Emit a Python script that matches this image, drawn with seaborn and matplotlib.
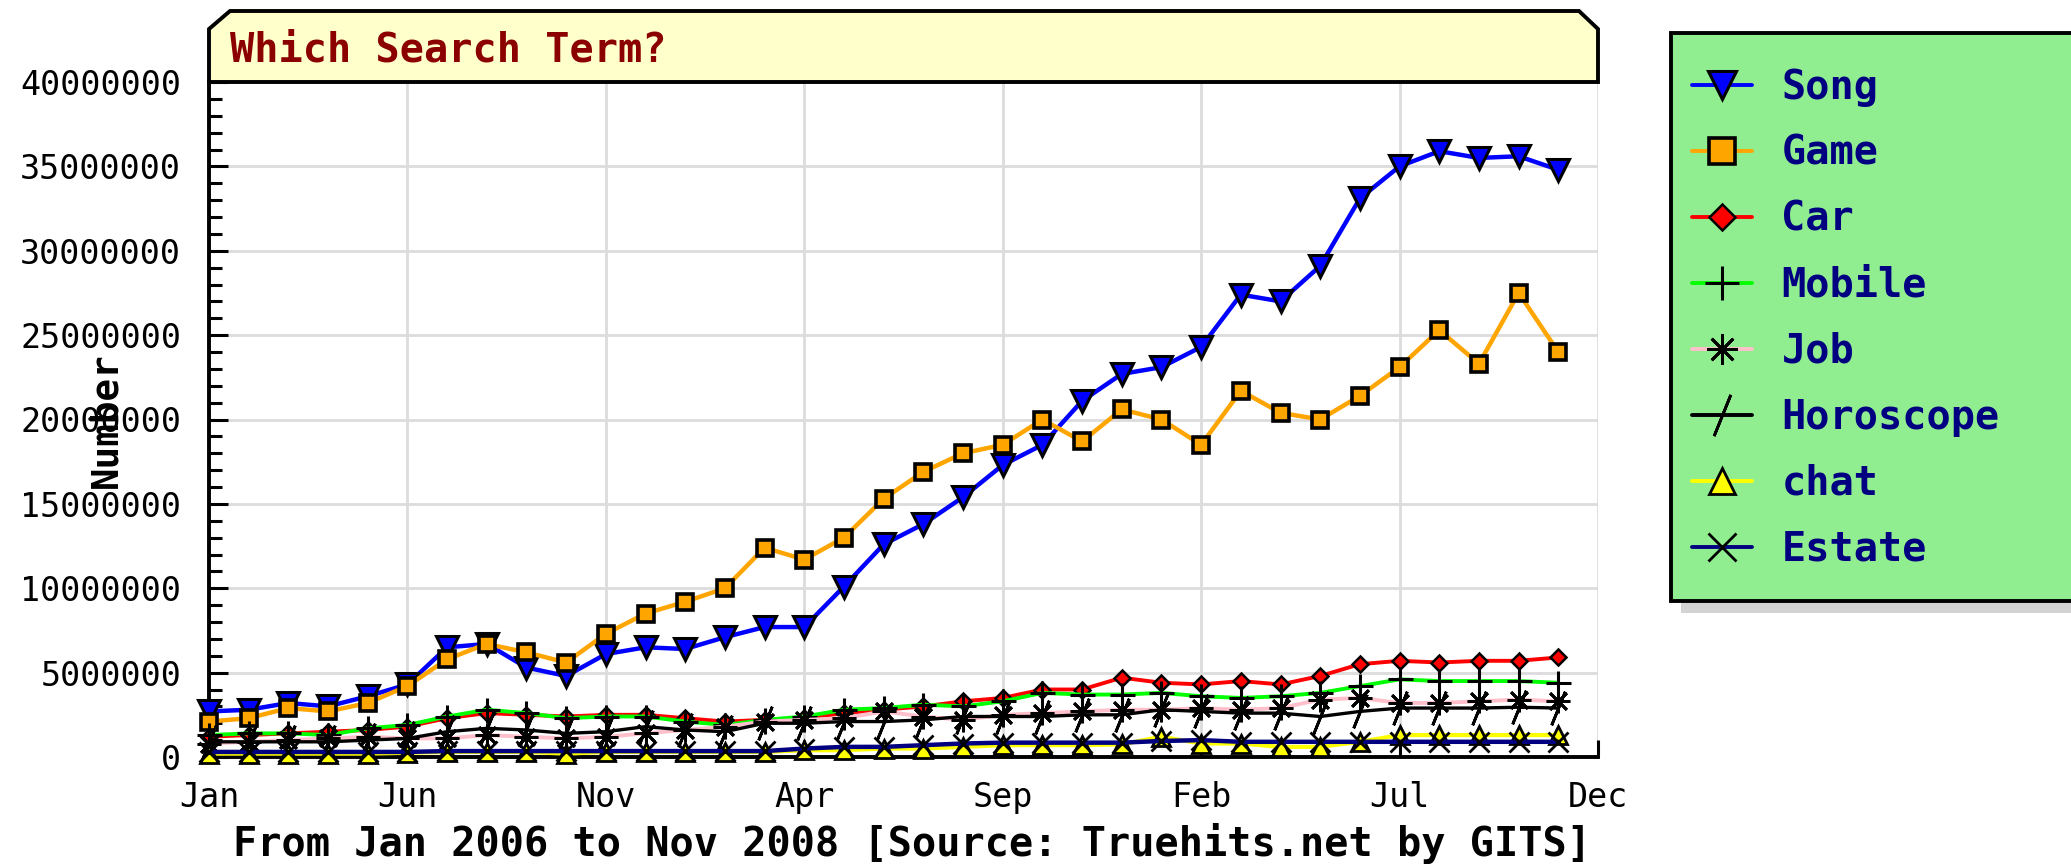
import pandas as pd
import matplotlib.pyplot as plt
import seaborn as sns
from matplotlib.lines import Line2D
from matplotlib.patches import Polygon, Rectangle
from matplotlib.ticker import MultipleLocator, FuncFormatter

# Months from Jan 2006 (0) to Nov 2008 (34)
months = list(range(35))
tick_pos = [0, 5, 10, 15, 20, 25, 30, 35]
tick_labels = ["Jan", "Jun", "Nov", "Apr", "Sep", "Feb", "Jul", "Dec"]

# Hits per month, in millions
song = [2.7, 2.8, 3.2, 3.0, 3.6, 4.3, 6.5, 6.7, 5.3, 4.8, 6.1, 6.5, 6.4, 7.1, 7.7, 7.7, 10.1, 12.6,
        13.8, 15.4, 17.3, 18.5, 21.1, 22.7, 23.1, 24.3, 27.4, 27.0, 29.1, 33.1, 35.0, 35.9, 35.5, 35.6, 34.8]
game = [2.1, 2.3, 2.9, 2.7, 3.2, 4.2, 5.8, 6.7, 6.2, 5.6, 7.3, 8.5, 9.2, 10.0, 12.4, 11.7, 13.0, 15.3,
        16.9, 18.0, 18.5, 20.0, 18.7, 20.6, 20.0, 18.5, 21.7, 20.4, 20.0, 21.4, 23.1, 25.3, 23.3, 27.5, 24.0]
car = [1.2, 1.3, 1.4, 1.5, 1.6, 1.8, 2.3, 2.6, 2.5, 2.4, 2.5, 2.5, 2.3, 2.1, 2.2, 2.3, 2.6, 2.8,
       3.0, 3.3, 3.5, 4.0, 4.0, 4.7, 4.4, 4.3, 4.5, 4.3, 4.8, 5.5, 5.7, 5.6, 5.7, 5.7, 5.9]
mobile = [1.3, 1.4, 1.4, 1.3, 1.7, 1.9, 2.4, 2.8, 2.6, 2.3, 2.4, 2.4, 2.1, 1.9, 2.2, 2.4, 2.8, 2.9,
          3.1, 3.0, 3.3, 3.8, 3.7, 3.7, 3.8, 3.6, 3.5, 3.6, 3.8, 4.2, 4.6, 4.5, 4.5, 4.5, 4.4]
job = [0.8, 0.9, 1.0, 1.1, 1.2, 1.1, 1.1, 1.3, 1.2, 1.1, 1.2, 1.4, 1.6, 1.8, 2.1, 2.2, 2.3, 2.7,
       2.4, 2.2, 2.5, 2.6, 2.7, 2.8, 2.8, 2.9, 2.8, 2.9, 3.4, 3.5, 3.2, 3.2, 3.3, 3.4, 3.3]
horoscope = [0.9, 0.9, 0.9, 0.9, 1.0, 1.1, 1.5, 1.7, 1.6, 1.4, 1.5, 1.8, 1.6, 1.5, 2.0, 2.0, 2.1, 2.1,
             2.2, 2.4, 2.4, 2.4, 2.5, 2.5, 2.8, 2.7, 2.6, 2.6, 2.4, 2.7, 2.9, 2.9, 2.9, 2.95, 2.9]
chat = [0.2, 0.2, 0.2, 0.2, 0.2, 0.25, 0.3, 0.3, 0.3, 0.2, 0.3, 0.3, 0.3, 0.3, 0.3, 0.4, 0.4, 0.5,
        0.5, 0.6, 0.7, 0.7, 0.7, 0.75, 1.2, 0.8, 0.8, 0.6, 0.6, 0.9, 1.3, 1.3, 1.3, 1.3, 1.3]
estate = [0.3, 0.3, 0.3, 0.3, 0.3, 0.3, 0.35, 0.35, 0.35, 0.35, 0.35, 0.35, 0.35, 0.35, 0.35, 0.5, 0.6, 0.6,
          0.7, 0.8, 0.85, 0.85, 0.85, 0.85, 0.95, 1.0, 0.9, 0.9, 0.9, 0.9, 0.9, 0.9, 0.9, 0.9, 0.9]

names = ["Song", "Game", "Car", "Mobile", "Job", "Horoscope", "chat", "Estate"]
values = [song, game, car, mobile, job, horoscope, chat, estate]

# line colour, marker, marker face, marker size, line width, marker edge width
styles = {
    "Song":      ("#0000FF", "v", "#0000FF", 16, 3.2, 2.2),
    "Game":      ("#FFA500", "s", "#FFA500", 12, 3.2, 2.6),
    "Car":       ("#FF0000", "D", "#FF0000", 8, 2.8, 1.8),
    "Mobile":    ("#00FF00", "+", "black", 18, 2.8, 2.2),
    "Job":       ("#FFC0CB", (8, 2, 0), "black", 17, 2.8, 2.0),
    "Horoscope": ("black", (2, 2, -22), "black", 26, 2.4, 2.0),
    "chat":      ("#FFFF00", "^", "#FFFF00", 13, 3.0, 2.0),
    "Estate":    ("#000080", "x", "black", 14, 3.2, 2.0),
}
# legend markers are drawn a bit bigger than the plot ones
legend_ms = {"Song": 20, "Game": 19, "Car": 13, "Mobile": 24, "Job": 22,
             "Horoscope": 32, "chat": 19, "Estate": 20}

sns.set_theme(style="white")
plt.rcParams["font.family"] = ["DejaVu Sans Mono", "DejaVu Sans"]
plt.rcParams["text.color"] = "black"
plt.rcParams["xtick.color"] = "black"
plt.rcParams["ytick.color"] = "black"

W, H = 2071, 865
fig = plt.figure(figsize=(W / 100, H / 100), dpi=100)
fig.patch.set_facecolor("white")

def fx(px):
    return px / W

def fy(py):
    return 1 - py / H

ax_l, ax_r, ax_t, ax_b = 209, 1598, 82, 757
ax = fig.add_axes([fx(ax_l), fy(ax_b), fx(ax_r - ax_l), (ax_b - ax_t) / H])
ax.set_facecolor("white")

for z, (name, vals) in enumerate(zip(names, values)):
    color, marker, mfc, ms, lw, mew = styles[name]
    sns.lineplot(x=months, y=vals, ax=ax, color=color, marker=marker, markersize=ms,
                 markerfacecolor=mfc, markeredgecolor="black", markeredgewidth=mew,
                 linewidth=lw, clip_on=False, zorder=3 + z, legend=False)

ax.set_xlim(0, 35)
ax.set_ylim(0, 40)
ax.set_xticks(tick_pos)
ax.set_xticklabels(tick_labels)
ax.yaxis.set_major_locator(MultipleLocator(5))
ax.yaxis.set_minor_locator(MultipleLocator(1))
ax.yaxis.set_major_formatter(FuncFormatter(lambda v, p: f"{int(round(v * 1000000))}"))
ax.set_xlabel("")
ax.set_ylabel("")

ax.grid(True, which="major", color="#DCDCDC", linewidth=2)
ax.set_axisbelow(True)
for side in ["top", "right"]:
    ax.spines[side].set_visible(False)
for side in ["left", "bottom"]:
    ax.spines[side].set_color("black")
    ax.spines[side].set_linewidth(2.8)

ax.tick_params(axis="y", which="major", direction="in", length=14, width=2.2,
               color="black", labelcolor="black", labelsize=24, pad=20, left=True)
ax.tick_params(axis="y", which="minor", direction="in", length=9, width=2.2, color="black", left=True)
ax.tick_params(axis="x", which="major", direction="in", length=12, width=2.2, color="black",
               labelcolor="black", labelsize=24, pad=17, bottom=True)

# title box with clipped top corners
title_pts = [(ax_l, 29), (230, 11), (1579, 11), (ax_r, 29), (ax_r, ax_t), (ax_l, ax_t)]
fig.add_artist(Polygon([(fx(x), fy(y)) for x, y in title_pts], closed=True,
                       transform=fig.transFigure, facecolor="#FFFFCC",
                       edgecolor="black", linewidth=2.8, zorder=1))
fig.text(fx(230), fy(50), "Which Search Term?", color="#8B0000", fontsize=29,
         fontweight="bold", ha="left", va="center")

fig.text(fx(106), fy(420), "Number", rotation=90, fontsize=27, fontweight="bold",
         color="black", ha="center", va="center", zorder=5)
fig.text(fx(912), fy(843), "From Jan 2006 to Nov 2008 [Source: Truehits.net by GITS]",
         fontsize=29, fontweight="bold", color="black", ha="center", va="center")

# legend box with shadow
fig.add_artist(Rectangle((fx(1681), fy(613)), fx(500), (613 - 45) / H, transform=fig.transFigure,
                         facecolor="#D3D3D3", edgecolor="none", zorder=1))
fig.add_artist(Rectangle((fx(1671), fy(601)), fx(500), (601 - 33) / H, transform=fig.transFigure,
                         facecolor="#90EE90", edgecolor="black", linewidth=2.8, zorder=2))

handles = []
for name in names:
    color, marker, mfc, ms, lw, mew = styles[name]
    handles.append(Line2D([], [], color=color, marker=marker, markersize=legend_ms[name],
                          markerfacecolor=mfc, markeredgecolor="black", markeredgewidth=mew,
                          linewidth=2.8))
leg = fig.legend(handles, names, loc="upper left", bbox_to_anchor=(fx(1692), fy(68)),
                 frameon=False, handlelength=1.5, handletextpad=0.72, labelspacing=0.67,
                 borderaxespad=0, borderpad=0,
                 prop={"family": "DejaVu Sans Mono", "weight": "bold", "size": 29},
                 labelcolor="#000080")
leg.set_zorder(3)

fig.savefig("out.png", dpi=100)
